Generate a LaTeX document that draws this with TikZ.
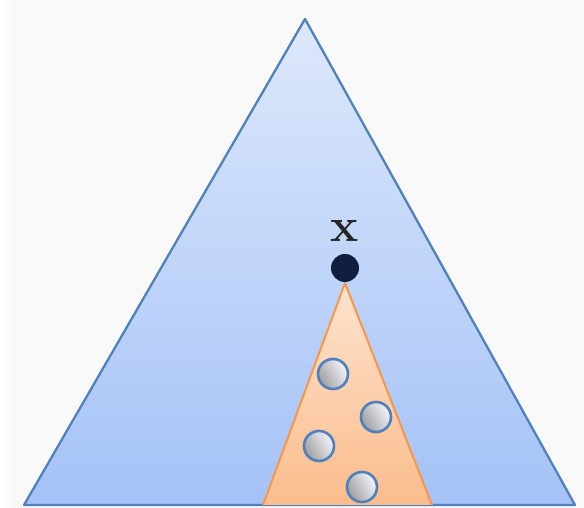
\documentclass[tikz,border=0pt]{standalone}
\usepackage{xcolor}
\usepackage{tikz}
\usetikzlibrary{positioning}

\definecolor{treeline}{HTML}{4F81BD}
\definecolor{treetop}{HTML}{DDE8FB}
\definecolor{treebot}{HTML}{A4C2F7}
\definecolor{subline}{HTML}{F79646}
\definecolor{subtop}{HTML}{FDE3CE}
\definecolor{subbot}{HTML}{FBBC8C}
\definecolor{rootdot}{HTML}{0F1F3D}

\tikzset{
    leaf/.style={circle, minimum size=0.6cm, inner sep=0pt, draw=treeline,
        line width=1.5pt, left color=gray!75!white, right color=blue!4!white,
        shading angle=120},
    root/.style={circle, minimum size=0.56cm, inner sep=0pt, fill=rootdot}
}

\begin{document}
\begin{tikzpicture}
    \useasboundingbox (0,0) rectangle (11.68,10.16);
    \fill[gray!5] (0,0) rectangle (11.68,10.16);
    \fill[left color=white, right color=gray!5] (0,0) rectangle (0.3,10.16);

    % whole tree
    \shade[top color=treetop, bottom color=treebot] (6.10,9.78) -- (0.48,0.06) -- (11.50,0.06) -- cycle;
    \draw[treeline, line width=1.3pt, line join=round] (6.10,9.78) -- (0.48,0.06) -- (11.50,0.06) -- cycle;

    % subtree below x
    \shade[top color=subtop, bottom color=subbot] (6.90,4.50) -- (5.26,0.06) -- (8.64,0.06) -- cycle;
    \draw[subline, line width=1.1pt] (5.26,0.06) -- (6.90,4.50) -- (8.64,0.06);

    \node[root] (x) at (6.90,4.80) {};
    \node[above=0.12cm of x, font=\fontsize{27}{27}\selectfont\bfseries, text=black!85] (xlabel) {x};

    \node[leaf] (l1) at (6.66,2.68) {};
    \node[leaf] (l2) at (7.52,1.82) {};
    \node[leaf] (l3) at (6.38,1.24) {};
    \node[leaf] (l4) at (7.24,0.42) {};
\end{tikzpicture}
\end{document}
